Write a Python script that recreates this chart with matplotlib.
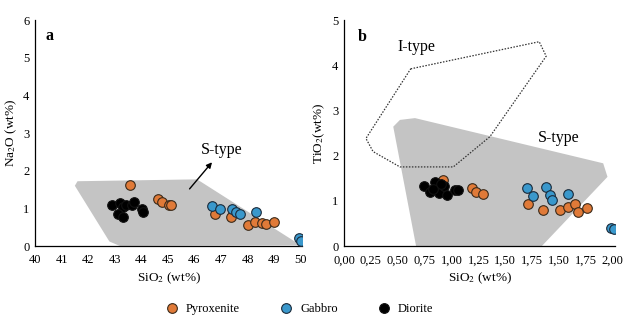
import matplotlib
matplotlib.use("Agg")
import matplotlib.pyplot as plt
from matplotlib.patches import Polygon
from matplotlib.lines import Line2D

plt.rcParams['font.family'] = ['Liberation Serif', 'DejaVu Serif']
plt.rcParams['mathtext.fontset'] = 'stix'

# ---------------- data: panel a (Na2O vs SiO2) ----------------
a_pyx_x = [43.57, 44.64, 44.79, 45.05, 45.12, 46.77, 47.36, 48.00, 48.27, 48.56, 48.68, 48.98]
a_pyx_y = [1.63, 1.24, 1.16, 1.10, 1.10, 0.84, 0.78, 0.56, 0.64, 0.60, 0.58, 0.64]
a_gab_x = [46.68, 46.98, 47.43, 47.58, 47.71, 48.33, 49.94, 50.00]
a_gab_y = [1.06, 0.97, 0.97, 0.91, 0.84, 0.89, 0.20, 0.14]
a_dio_x = [42.88, 43.20, 43.32, 43.42, 43.64, 43.72, 43.13, 43.32, 44.01, 44.05]
a_dio_y = [1.09, 1.13, 1.04, 1.09, 1.10, 1.16, 0.84, 0.78, 0.97, 0.89]
a_stype_x = [41.6, 46.1, 50.0, 43.2, 42.8, 41.5]
a_stype_y = [1.72, 1.77, 0.02, 0.00, 0.12, 1.60]
a_xticks = [40, 41, 42, 43, 44, 45, 46, 47, 48, 49, 50]
a_yticks = [0, 1, 2, 3, 4, 5, 6]

# ---------------- data: panel b (TiO2 vs SiO2) ----------------
b_pyx_x = [0.923, 1.19, 1.23, 1.295, 1.707, 1.852, 2.007, 2.08, 2.15, 2.18, 2.255]
b_pyx_y = [1.45, 1.28, 1.20, 1.15, 0.92, 0.80, 0.80, 0.87, 0.93, 0.76, 0.83]
b_gab_x = [1.70, 1.76, 1.874, 1.92, 1.936, 2.085, 2.48, 2.51]
b_gab_y = [1.28, 1.11, 1.31, 1.13, 1.02, 1.14, 0.39, 0.37]
b_dio_x = [0.74, 0.85, 0.80, 0.88, 0.93, 0.96, 1.03, 1.06, 0.90, 0.83]
b_dio_y = [1.33, 1.42, 1.20, 1.18, 1.33, 1.13, 1.24, 1.24, 1.38, 1.27]
b_stype_x = [0.458, 0.52, 0.66, 2.41, 2.45, 1.84, 0.67]
b_stype_y = [2.64, 2.79, 2.83, 1.83, 1.53, 0.00, 0.00]
b_itype_x = [0.62, 1.815, 1.88, 1.357, 1.016, 0.52, 0.27, 0.204]
b_itype_y = [3.92, 4.52, 4.20, 2.42, 1.75, 1.75, 2.09, 2.38]
b_xticks = [0, 0.25, 0.5, 0.75, 1.0, 1.25, 1.5, 1.75, 2.0, 2.25, 2.5]
b_xticklabels = ['0,00', '0,25', '0,50', '0,75', '1,00', '1,25', '1,50', '1,75', '1,50', '1,75', '2,00']
b_yticks = [0, 1, 2, 3, 4, 5]

c_pyx = '#E07A38'
c_gab = '#3A98CC'
c_dio = '#000000'
c_fill = '#C4C4C4'

fig = plt.figure(figsize=(6.24, 3.24), dpi=100)
axA = fig.add_axes([0.0561, 0.2407, 0.4279, 0.6975])
axB = fig.add_axes([0.5513, 0.2407, 0.4343, 0.6975])

ms = 48
ew = 0.8

def style(ax):
    for s in ['top', 'right']:
        ax.spines[s].set_visible(False)
    for s in ['left', 'bottom']:
        ax.spines[s].set_linewidth(0.9)
    ax.tick_params(axis='both', length=0, labelsize=9)
    ax.tick_params(axis='x', pad=6)
    ax.tick_params(axis='y', pad=4)

# panel a
axA.add_patch(Polygon(list(zip(a_stype_x, a_stype_y)), closed=True, facecolor=c_fill, edgecolor='none', zorder=1))
axA.scatter(a_dio_x, a_dio_y, s=ms, c=c_dio, edgecolors='#111111', linewidths=ew, zorder=3)
axA.scatter(a_pyx_x, a_pyx_y, s=ms, c=c_pyx, edgecolors='#3a2a1a', linewidths=ew, zorder=3)
axA.scatter(a_gab_x, a_gab_y, s=ms, c=c_gab, edgecolors='#1a2a3a', linewidths=ew, zorder=4)
axA.annotate('', xy=(46.73, 2.28), xytext=(45.75, 1.46),
             arrowprops=dict(arrowstyle='-|>', color='black', lw=1.0, mutation_scale=8), zorder=5)
axA.text(47.03, 2.55, 'S-type', fontsize=11.5, ha='center', va='center')
axA.text(0.04, 0.93, 'a', transform=axA.transAxes, fontsize=11.5, fontweight='bold', ha='left', va='center')
axA.set_xlim(40, 50.05)
axA.set_ylim(0, 6)
axA.set_xticks(a_xticks)
axA.set_yticks(a_yticks)
style(axA)
axA.set_xlabel('SiO$_2$ (wt%)', fontsize=9.5, labelpad=3)
axA.set_ylabel('Na$_2$O (wt%)', fontsize=9.5, labelpad=3)

# panel b
axB.add_patch(Polygon(list(zip(b_stype_x, b_stype_y)), closed=True, facecolor=c_fill, edgecolor='none', zorder=1))
axB.add_patch(Polygon(list(zip(b_itype_x, b_itype_y)), closed=True, facecolor='none', edgecolor='#333333',
                      linestyle=(0, (1.2, 1.2)), linewidth=0.9, zorder=2))
axB.scatter(b_pyx_x, b_pyx_y, s=ms, c=c_pyx, edgecolors='#3a2a1a', linewidths=ew, zorder=3)
axB.scatter(b_dio_x, b_dio_y, s=ms, c=c_dio, edgecolors='#111111', linewidths=ew, zorder=4)
axB.scatter(b_gab_x, b_gab_y, s=ms, c=c_gab, edgecolors='#1a2a3a', linewidths=ew, zorder=4)
axB.text(0.67, 4.41, 'I-type', fontsize=11.5, ha='center', va='center')
axB.text(2.0, 2.38, 'S-type', fontsize=11.5, ha='center', va='center')
axB.text(0.05, 0.925, 'b', transform=axB.transAxes, fontsize=11.5, fontweight='bold', ha='left', va='center')
axB.set_xlim(0, 2.52)
axB.set_ylim(0, 5)
axB.set_xticks(b_xticks)
axB.set_xticklabels(b_xticklabels)
axB.set_yticks(b_yticks)
style(axB)
axB.set_xlabel('SiO$_2$ (wt%)', fontsize=9.5, labelpad=3)
axB.set_ylabel('TiO$_2$(wt%)', fontsize=9.5, labelpad=4)

for ax, top in ((axA, 6), (axB, 5)):
    ax.set_yticks([top], minor=True)
    ax.tick_params(axis='y', which='minor', direction='in', length=3, width=0.9)

handles = [
    Line2D([], [], marker='o', linestyle='none', markersize=7, markerfacecolor=c_pyx, markeredgecolor='#3a2a1a', markeredgewidth=ew),
    Line2D([], [], marker='o', linestyle='none', markersize=7, markerfacecolor=c_gab, markeredgecolor='#1a2a3a', markeredgewidth=ew),
    Line2D([], [], marker='o', linestyle='none', markersize=7, markerfacecolor=c_dio, markeredgecolor='#111111', markeredgewidth=ew),
]
fig.legend(handles, ['Pyroxenite', 'Gabbro', 'Diorite'], loc='center', bbox_to_anchor=(0.48, 0.045),
           ncol=3, frameon=False, fontsize=9, handletextpad=0.6, columnspacing=3.2, handlelength=1.0)

fig.savefig('out.png', dpi=100)
